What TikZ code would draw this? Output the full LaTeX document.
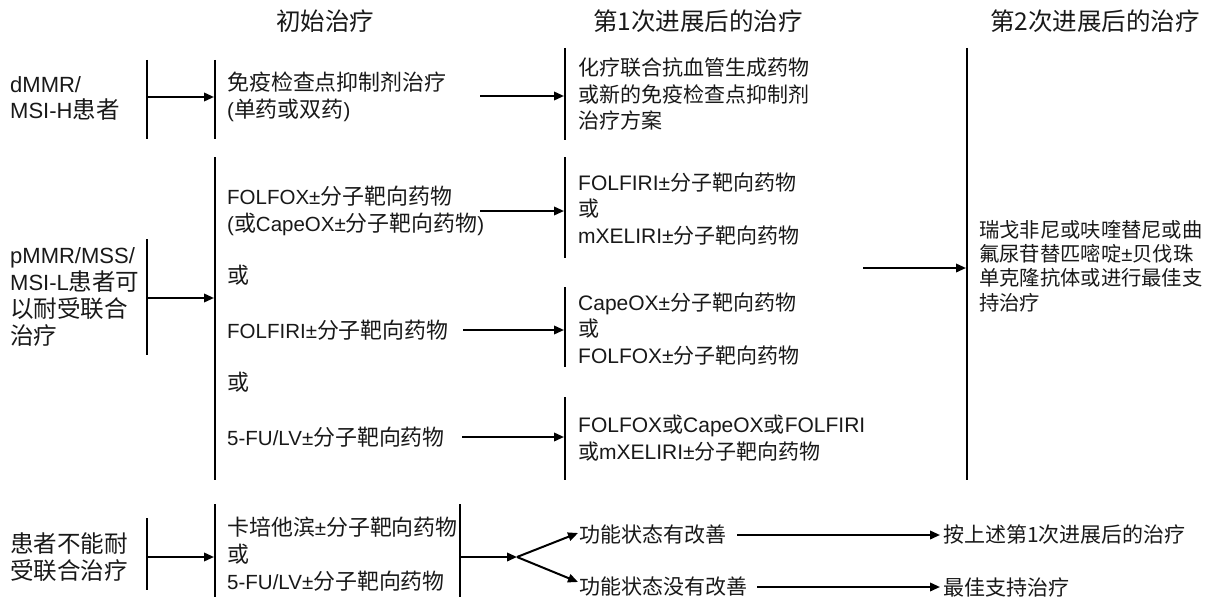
\documentclass[tikz,border=0pt]{standalone}
\usepackage{fontspec}
\setmainfont{Liberation Sans}
\newfontfamily\cjk{Noto Sans CJK SC}
\newfontfamily\cjkbig[Scale=1.07]{Noto Sans CJK SC}
\let\curcjk\cjk
\newcommand\Z[1]{{\curcjk #1}}
\newcommand\fzbx{\Z{分子靶向药物}}
\usetikzlibrary{arrows.meta}
\tikzset{
 ln/.style={line width=2pt},
 arr/.style={line width=2pt,-{Triangle[length=10pt,width=8.5pt]}},
 txt/.style={anchor=west,inner sep=0pt,align=left,text=black!90,font=\fontsize{21}{26.8}\selectfont},
 mid/.style={txt,font=\fontsize{20.5}{26.8}\selectfont\let\curcjk\cjkbig},
 lft/.style={txt,font=\fontsize{22}{26.8}\selectfont\let\curcjk\cjkbig},
 rgt/.style={txt,font=\fontsize{20.3}{24.2}\selectfont},
 hdr/.style={inner sep=0pt,text=black!90,font=\fontsize{24.5}{28}\selectfont\cjk},
}
\begin{document}
\begin{tikzpicture}[x=1pt,y=-1pt]
\useasboundingbox (0,0) rectangle (1216,602);
\fill[white] (0,0) rectangle (1216,602);

% headers
\node[hdr] (h1) at (325,21) {初始治疗};
\node[hdr] (h2) at (698,21) {第1次进展后的治疗};
\node[hdr] (h3) at (1095,21) {第2次进展后的治疗};

% ---------- row 1 ----------
\node[lft] (p1) at (10,98.5) {dMMR/\\MSI-H\Z{患者}};
\node[mid] (t1) at (227,97) {\Z{免疫检查点抑制剂治疗}\\(\Z{单药或双药})};
\node[txt] (s1) at (578,94) {\Z{化疗联合抗血管生成药物}\\\Z{或新的免疫检查点抑制剂}\\\Z{治疗方案}};

\coordinate (v1t) at (147,60);  \coordinate (v1b) at (147,139);
\coordinate (v2t) at (215,60);  \coordinate (v2b) at (215,139);
\coordinate (v3t) at (565,48);  \coordinate (v3b) at (565,140);
\draw[ln] (v1t) -- (v1b);
\draw[ln] (v2t) -- (v2b);
\draw[ln] (v3t) -- (v3b);
\coordinate (a1s) at (147,97); \coordinate (a1e) at (214,97);
\coordinate (a2s) at (480,96); \coordinate (a2e) at (564,96);
\draw[arr] (a1s) -- (a1e);
\draw[arr] (a2s) -- (a2e);

% ---------- row 2 ----------
\node[lft] (p2) at (10,297) {pMMR/MSS/\\MSI-L\Z{患者可}\\\Z{以耐受联合}\\\Z{治疗}};
\node[mid] (t2a) at (227,211) {FOLFOX±\fzbx\\(\Z{或}CapeOX±\fzbx)};
\node[mid] (o1) at (227,275) {\Z{或}};
\node[mid] (t2b) at (227,330) {FOLFIRI±\fzbx};
\node[mid] (o2) at (227,382) {\Z{或}};
\node[mid] (t2c) at (227,437) {5-FU/LV±\fzbx};

\node[txt] (s2a) at (578,209) {FOLFIRI±\fzbx\\\Z{或}\\mXELIRI±\fzbx};
\node[txt] (s2b) at (578,329) {CapeOX±\fzbx\\\Z{或}\\FOLFOX±\fzbx};
\node[txt] (s2c) at (578,438) {FOLFOX\Z{或}CapeOX\Z{或}FOLFIRI\\\Z{或}mXELIRI±\fzbx};

\node[rgt] (f) at (979,266) {\Z{瑞戈非尼或呋喹替尼或曲}\\\Z{氟尿苷替匹嘧啶}±\Z{贝伐珠}\\\Z{单克隆抗体或进行最佳支}\\\Z{持治疗}};

\coordinate (w1t) at (147,239); \coordinate (w1b) at (147,355);
\coordinate (w2t) at (215,157); \coordinate (w2b) at (215,480);
\coordinate (w3t) at (565,157); \coordinate (w3b) at (565,258);
\coordinate (w4t) at (565,287); \coordinate (w4b) at (565,367);
\coordinate (w5t) at (565,397); \coordinate (w5b) at (565,480);
\coordinate (w6t) at (967,48);  \coordinate (w6b) at (967,480);
\draw[ln] (w1t) -- (w1b);
\draw[ln] (w2t) -- (w2b);
\draw[ln] (w3t) -- (w3b);
\draw[ln] (w4t) -- (w4b);
\draw[ln] (w5t) -- (w5b);
\draw[ln] (w6t) -- (w6b);

\coordinate (b1s) at (147,298); \coordinate (b1e) at (214,298);
\coordinate (b2s) at (480,211); \coordinate (b2e) at (564,211);
\coordinate (b3s) at (463,330); \coordinate (b3e) at (564,330);
\coordinate (b4s) at (462,437); \coordinate (b4e) at (564,437);
\coordinate (b5s) at (863,268); \coordinate (b5e) at (966,268);
\draw[arr] (b1s) -- (b1e);
\draw[arr] (b2s) -- (b2e);
\draw[arr] (b3s) -- (b3e);
\draw[arr] (b4s) -- (b4e);
\draw[arr] (b5s) -- (b5e);

% ---------- row 3 ----------
\node[lft] (p3) at (10,557) {\Z{患者不能耐}\\\Z{受联合治疗}};
\node[mid] (t3) at (227,554) {\Z{卡培他滨}±\fzbx\\\Z{或}\\5-FU/LV±\fzbx};
\node[txt] (g1) at (579,535) {\Z{功能状态有改善}};
\node[txt] (g2) at (579,587) {\Z{功能状态没有改善}};
\node[txt] (r1) at (943,535) {\Z{按上述第1次进展后的治疗}};
\node[txt] (r2) at (943,587) {\Z{最佳支持治疗}};

\coordinate (x1t) at (147,518); \coordinate (x1b) at (147,590);
\coordinate (x2t) at (215,504); \coordinate (x2b) at (215,597);
\coordinate (x3t) at (460,504); \coordinate (x3b) at (460,597);
\draw[ln] (x1t) -- (x1b);
\draw[ln] (x2t) -- (x2b);
\draw[ln] (x3t) -- (x3b);

\coordinate (c1s) at (147,557); \coordinate (c1e) at (214,557);
\coordinate (c2s) at (460,557); \coordinate (fork) at (517,557);
\coordinate (up) at (578,533);  \coordinate (dn) at (578,582);
\coordinate (c3s) at (737,535); \coordinate (c3e) at (940,535);
\coordinate (c4s) at (757,587); \coordinate (c4e) at (940,587);
\draw[arr] (c1s) -- (c1e);
\draw[arr] (c2s) -- (fork);
\draw[arr] (fork) -- (up);
\draw[arr] (fork) -- (dn);
\draw[arr] (c3s) -- (c3e);
\draw[arr] (c4s) -- (c4e);
\end{tikzpicture}
\end{document}
